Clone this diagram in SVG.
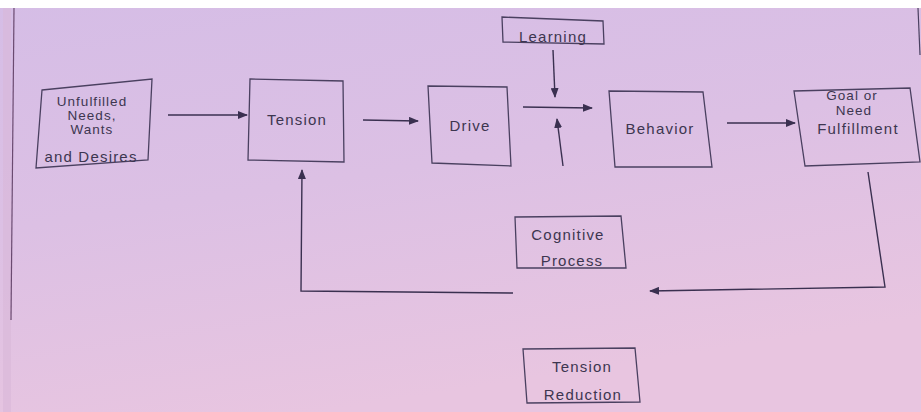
<svg xmlns="http://www.w3.org/2000/svg" width="921" height="412" viewBox="0 0 921 412">
<defs>
<linearGradient id="bg" x1="0" y1="0" x2="0.35" y2="1">
<stop offset="0" stop-color="#d5bde6"/>
<stop offset="0.5" stop-color="#dcc0e4"/>
<stop offset="1" stop-color="#e8c5e0"/>
</linearGradient>
<marker id="ah" viewBox="0 0 10 8" refX="9" refY="4" markerWidth="10" markerHeight="8" markerUnits="userSpaceOnUse" orient="auto">
<path d="M0,0 L10,4 L0,8 Z" fill="#3a3050"/>
</marker>
<style>
.box{fill:none;stroke:#4a4060;stroke-width:1.3}
.lbl{font-family:"Liberation Sans",Arial,sans-serif;font-size:15px;letter-spacing:1.2px;fill:#3d3650;text-anchor:middle}
.sm{font-size:13.5px;letter-spacing:1px}
.con{fill:none;stroke:#3a3050;stroke-width:1.4}
</style>
</defs>
<rect x="0" y="0" width="921" height="412" fill="url(#bg)"/>
<rect x="0" y="0" width="921" height="8" fill="#ffffff"/>
<rect x="3" y="8" width="8" height="404" fill="#d9b8d8" opacity="0.6"/>
<line x1="14" y1="8" x2="11" y2="320" stroke="#6a4a70" stroke-width="1.2"/>
<line x1="918" y1="8" x2="920" y2="55" stroke="#4a4060" stroke-width="1.2"/>

<g id="connectors">
<line class="con" x1="168" y1="115" x2="247" y2="115" marker-end="url(#ah)"/>
<line class="con" x1="363" y1="120" x2="418" y2="121" marker-end="url(#ah)"/>
<line class="con" x1="553" y1="50" x2="555" y2="97" marker-end="url(#ah)"/>
<line class="con" x1="523" y1="107" x2="592" y2="108" marker-end="url(#ah)"/>
<line class="con" x1="563" y1="166" x2="557" y2="119" marker-end="url(#ah)"/>
<line class="con" x1="727" y1="123" x2="795" y2="123" marker-end="url(#ah)"/>
<polyline class="con" points="868,172 885,287 650,291" marker-end="url(#ah)"/>
<polyline class="con" points="513,293 301,291 302,170" marker-end="url(#ah)"/>
</g>

<g id="unfulfilled">
<polygon class="box" points="42,90 152,79 148,160 36,168"/>
<text class="lbl sm" x="92" y="106">Unfulfilled</text>
<text class="lbl sm" x="92" y="120">Needs,</text>
<text class="lbl sm" x="92" y="134">Wants</text>
<text class="lbl" x="91" y="162">and Desires</text>
</g>

<g id="tension">
<polygon class="box" points="250,79 343,81 344,162 248,160"/>
<text class="lbl" x="297" y="125">Tension</text>
</g>

<g id="drive">
<polygon class="box" points="428,86 507,87 511,166 432,163"/>
<text class="lbl" x="470" y="131">Drive</text>
</g>

<g id="learning">
<polygon class="box" points="502,17 603,21 604,44 503,42"/>
<text class="lbl" x="553" y="42">Learning</text>
</g>

<g id="behavior">
<polygon class="box" points="609,91 703,92 712,167 615,167"/>
<text class="lbl" x="660" y="134">Behavior</text>
</g>

<g id="goal">
<polygon class="box" points="794,91 910,88 920,162 805,166"/>
<text class="lbl sm" x="852" y="100">Goal or</text>
<text class="lbl sm" x="854" y="115">Need</text>
<text class="lbl" x="858" y="134">Fulfillment</text>
</g>

<g id="cognitive">
<polygon class="box" points="515,217 621,216 626,268 517,268"/>
<text class="lbl" x="568" y="240">Cognitive</text>
<text class="lbl" x="572" y="266">Process</text>
</g>

<g id="reduction">
<polygon class="box" points="523,349 635,348 640,402 527,403"/>
<text class="lbl" x="582" y="372">Tension</text>
<text class="lbl" x="583" y="400">Reduction</text>
</g>
</svg>
